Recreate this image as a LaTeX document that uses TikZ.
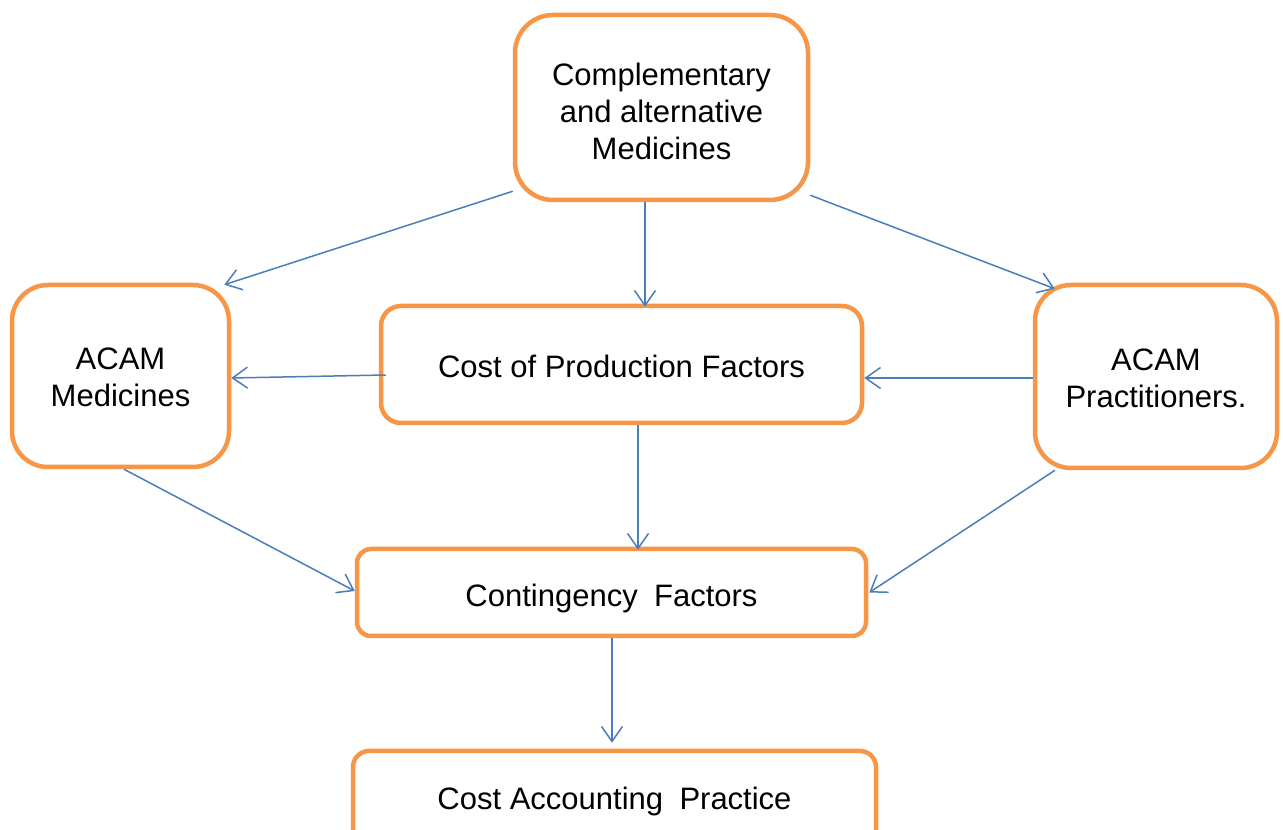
\documentclass[tikz,border=0pt]{standalone}
\usepackage{fontspec}
\setmainfont{Liberation Sans}
\usetikzlibrary{arrows.meta}
\definecolor{boxorange}{HTML}{F79646}
\definecolor{linkblue}{HTML}{4A7EBB}
% invisible strut that sets the height of a box's first line
\newcommand\firstline[1]{\rule{0pt}{#1}}
\begin{document}
\begin{tikzpicture}[x=1pt,y=1pt,
  box/.style={draw=boxorange, line width=4.5pt, fill=white, rounded corners=#1,
    align=center, inner sep=0pt, font=\fontsize{31}{37}\selectfont},
  box/.default=36pt,
  link/.style={draw=linkblue, line width=1.5pt,
    -{Straight Barb[length=15pt,width=21pt,line width=1.5pt]}}]
\useasboundingbox (0,0) rectangle (1283,830);
\clip (0,0) rectangle (1283,830);
\fill[white] (0,0) rectangle (1283,830);

% boxes
\node[box=38pt, minimum width=293pt, minimum height=185pt] (top) at (661.5,722.5)
  {\firstline{31pt}Complementary\\and alternative\\Medicines};
\node[box, minimum width=217pt, minimum height=182pt] (med) at (120.5,454)
  {\firstline{25pt}ACAM\\Medicines};
\node[box=20pt, minimum width=481pt, minimum height=117pt] (cost) at (621.5,465.5)
  {\firstline{27pt}Cost of Production Factors};
\node[box, minimum width=242pt, minimum height=183pt] (prac) at (1156,453.5)
  {\firstline{25pt}ACAM\\Practitioners.};
\node[box=14pt, minimum width=509pt, minimum height=87pt] (cont) at (611.5,237.5)
  {\firstline{35pt}Contingency\hspace{0.25em} Factors};
\node[box=16pt, minimum width=523pt, minimum height=96pt] (acct) at (614.5,31)
  {\firstline{27pt}Cost Accounting\hspace{0.25em} Practice};

% connectors
\draw[link] ([yshift=11pt]top.south west) -- ([xshift=-7pt,yshift=-2pt]med.north east);
\draw[link] ([xshift=-16.5pt]top.south) -- ([xshift=23.5pt,yshift=-3pt]cost.north);
\draw[link] ([yshift=7pt]top.south east) -- ([xshift=22pt,yshift=-6pt]prac.north west);
\draw[link] ([xshift=7pt,yshift=-10.5pt]cost.west) -- ([yshift=-2pt]med.east);
\draw[link] ([yshift=-1.5pt]prac.west) -- ([yshift=-13.5pt]cost.east);
\draw[link] ([xshift=3.5pt]med.south) -- ([yshift=1.5pt]cont.west);
\draw[link] ([xshift=16.5pt]cost.south) -- ([xshift=26.5pt,yshift=-3pt]cont.north);
\draw[link] ([xshift=-101pt]prac.south) -- ([xshift=1pt]cont.east);
\draw[link] ([xshift=0.5pt]cont.south) -- ([xshift=-2.5pt,yshift=6pt]acct.north);
\end{tikzpicture}
\end{document}
